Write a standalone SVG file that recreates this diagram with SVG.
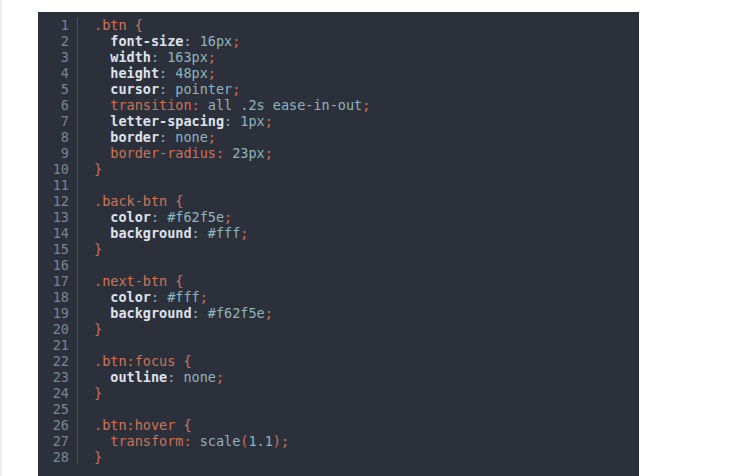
<svg xmlns="http://www.w3.org/2000/svg" width="731" height="476" viewBox="0 0 731 476">
<style>
text{font-family:"DejaVu Sans Mono","Liberation Mono",monospace;font-size:13.5px;white-space:pre}
.ln{fill:#7b8593;text-anchor:end}
.s{fill:#cf7355}
.p{fill:#dde2ea;font-weight:bold}
.v{fill:#8db5bf}
</style>
<rect x="0" y="0" width="731" height="476" fill="#ffffff"/>
<rect x="0" y="0" width="2" height="476" fill="#ececec"/>
<g id="code-block">
<rect x="38" y="12" width="601" height="464" fill="#2c303b"/>
<line x1="77.5" y1="17" x2="77.5" y2="464" stroke="#4a505c" stroke-width="1"/>
<g id="line-numbers">
<text class="ln" x="69" y="30">1</text>
<text class="ln" x="69" y="46">2</text>
<text class="ln" x="69" y="62">3</text>
<text class="ln" x="69" y="78">4</text>
<text class="ln" x="69" y="94">5</text>
<text class="ln" x="69" y="110">6</text>
<text class="ln" x="69" y="126">7</text>
<text class="ln" x="69" y="142">8</text>
<text class="ln" x="69" y="158">9</text>
<text class="ln" x="69" y="174">10</text>
<text class="ln" x="69" y="190">11</text>
<text class="ln" x="69" y="206">12</text>
<text class="ln" x="69" y="222">13</text>
<text class="ln" x="69" y="238">14</text>
<text class="ln" x="69" y="254">15</text>
<text class="ln" x="69" y="270">16</text>
<text class="ln" x="69" y="286">17</text>
<text class="ln" x="69" y="302">18</text>
<text class="ln" x="69" y="318">19</text>
<text class="ln" x="69" y="334">20</text>
<text class="ln" x="69" y="350">21</text>
<text class="ln" x="69" y="366">22</text>
<text class="ln" x="69" y="382">23</text>
<text class="ln" x="69" y="398">24</text>
<text class="ln" x="69" y="414">25</text>
<text class="ln" x="69" y="430">26</text>
<text class="ln" x="69" y="446">27</text>
<text class="ln" x="69" y="462">28</text>
</g>
<g id="code" xml:space="preserve">
<text x="94" y="30" class="s">.btn {</text>
<text x="94" y="46">  <tspan class="p">font-size</tspan><tspan class="v">: 16px</tspan><tspan class="s">;</tspan></text>
<text x="94" y="62">  <tspan class="p">width</tspan><tspan class="v">: 163px</tspan><tspan class="s">;</tspan></text>
<text x="94" y="78">  <tspan class="p">height</tspan><tspan class="v">: 48px</tspan><tspan class="s">;</tspan></text>
<text x="94" y="94">  <tspan class="p">cursor</tspan><tspan class="v">: pointer</tspan><tspan class="s">;</tspan></text>
<text x="94" y="110">  <tspan class="s">transition:</tspan><tspan class="v"> all .2s ease-in-out</tspan><tspan class="s">;</tspan></text>
<text x="94" y="126">  <tspan class="p">letter-spacing</tspan><tspan class="v">: 1px</tspan><tspan class="s">;</tspan></text>
<text x="94" y="142">  <tspan class="p">border</tspan><tspan class="v">: none</tspan><tspan class="s">;</tspan></text>
<text x="94" y="158">  <tspan class="s">border-radius:</tspan><tspan class="v"> 23px</tspan><tspan class="s">;</tspan></text>
<text x="94" y="174" class="s">}</text>
<text x="94" y="206" class="s">.back-btn {</text>
<text x="94" y="222">  <tspan class="p">color</tspan><tspan class="v">: #f62f5e</tspan><tspan class="s">;</tspan></text>
<text x="94" y="238">  <tspan class="p">background</tspan><tspan class="v">: #fff</tspan><tspan class="s">;</tspan></text>
<text x="94" y="254" class="s">}</text>
<text x="94" y="286" class="s">.next-btn {</text>
<text x="94" y="302">  <tspan class="p">color</tspan><tspan class="v">: #fff</tspan><tspan class="s">;</tspan></text>
<text x="94" y="318">  <tspan class="p">background</tspan><tspan class="v">: #f62f5e</tspan><tspan class="s">;</tspan></text>
<text x="94" y="334" class="s">}</text>
<text x="94" y="366" class="s">.btn:focus {</text>
<text x="94" y="382">  <tspan class="p">outline</tspan><tspan class="v">: none</tspan><tspan class="s">;</tspan></text>
<text x="94" y="398" class="s">}</text>
<text x="94" y="430" class="s">.btn:hover {</text>
<text x="94" y="446">  <tspan class="s">transform:</tspan><tspan class="v"> scale</tspan><tspan class="s">(</tspan><tspan class="v">1.1</tspan><tspan class="s">);</tspan></text>
<text x="94" y="462" class="s">}</text>
</g>
</g>
</svg>
